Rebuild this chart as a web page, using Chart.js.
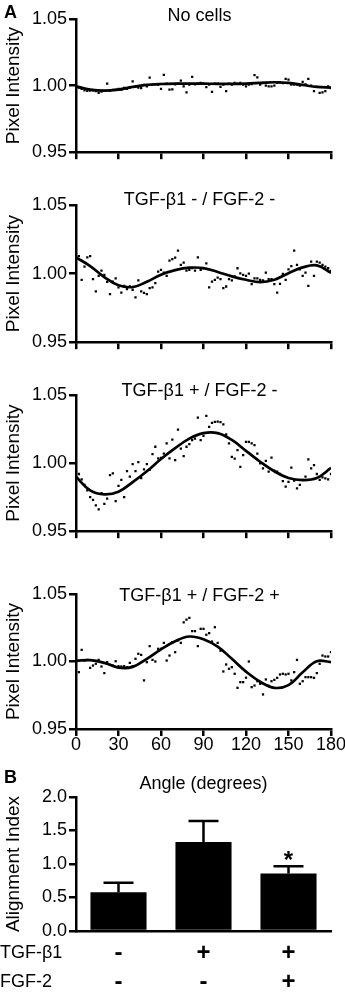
<!DOCTYPE html>
<html>
<head>
<meta charset="utf-8">
<title>Pixel intensity profiles and alignment index</title>
<script src="https://cdn.jsdelivr.net/npm/chart.js@4.4.1/dist/chart.umd.min.js"></script>
<style>
  html, body { margin: 0; padding: 0; background: #fff; }
  body { width: 345px; height: 992px; position: relative; overflow: hidden; }
  .panel { position: absolute; left: 0; width: 345px; }
</style>
</head>
<body>
<div class="panel" style="top:0px;height:165px"><canvas id="p1"></canvas></div>
<div class="panel" style="top:180px;height:175px"><canvas id="p2"></canvas></div>
<div class="panel" style="top:370px;height:174px"><canvas id="p3"></canvas></div>
<div class="panel" style="top:569px;height:226px"><canvas id="p4"></canvas></div>
<div class="panel" style="top:765px;height:227px"><canvas id="pB"></canvas></div>

<script>
// angle of each measured point (degrees)
const angles = [0, 2, 4, 6, 8, 10, 12, 14, 16, 18, 20, 22, 24, 26, 28, 30, 32, 34, 36, 38,
  40, 42, 44, 46, 48, 50, 52, 54, 56, 58, 60, 62, 64, 66, 68, 70, 72, 74, 76, 78,
  80, 82, 84, 86, 88, 90, 92, 94, 96, 98, 100, 102, 104, 106, 108, 110, 112, 114, 116, 118,
  120, 122, 124, 126, 128, 130, 132, 134, 136, 138, 140, 142, 144, 146, 148, 150, 152, 154, 156, 158,
  160, 162, 164, 166, 168, 170, 172, 174, 176, 178, 180];

// angles where the fitted curve was read
const fitAngles = [0, 10, 20, 30, 40, 50, 60, 70, 80, 90, 100, 110, 120, 130, 140, 150, 160, 170, 180];

// pixel intensity, panel "No cells"
const noCells = [0.9995, 0.9985, 0.9975, 0.9965, 0.9960, 0.9962, 0.9965, 0.9958, 0.9945, 0.9955,
  0.9960, 1.0015, 0.9962, 0.9968, 0.9970, 0.9975, 0.9970, 0.9982, 0.9975, 0.9985,
  1.0032, 0.9992, 0.9985, 0.9982, 1.0005, 0.9995, 1.0060, 1.0008, 1.0010, 1.0008,
  0.9975, 1.0080, 1.0015, 0.9970, 0.9972, 1.0010, 1.0015, 1.0038, 0.9995, 0.9950,
  1.0008, 1.0065, 1.0010, 1.0015, 1.0020, 1.0015, 0.9988, 1.0008, 0.9952, 1.0015,
  1.0015, 0.9990, 1.0008, 0.9958, 1.0015, 1.0008, 1.0020, 1.0015, 1.0020, 1.0008,
  0.9995, 1.0008, 1.0012, 1.0078, 1.0062, 1.0008, 1.0020, 1.0000, 0.9995, 0.9995,
  1.0000, 1.0020, 1.0025, 1.0018, 1.0050, 1.0045, 1.0008, 1.0008, 1.0008, 1.0000,
  1.0028, 1.0010, 1.0050, 1.0000, 0.9958, 0.9990, 0.9945, 0.9950, 0.9958, 0.9995, 0.9982];
const fitNoCells = [0.9995, 0.9970, 0.9962, 0.9970, 0.9990, 1.0005, 1.0012, 1.0015, 1.0015, 1.0015,
  1.0013, 1.0013, 1.0015, 1.0020, 1.0025, 1.0020, 1.0005, 0.9990, 0.9985];

// TGF-b1 - / FGF-2 -
const tgfNeg = [1.0118, 1.0128, 0.9954, 1.0050, 1.0118, 1.0128, 0.9960, 0.9870, 0.9983, 1.0022,
  0.9990, 0.9940, 0.9850, 0.9942, 0.9966, 0.9900, 0.9862, 0.9910, 0.9886, 0.9906,
  0.9882, 0.9826, 0.9950, 0.9870, 0.9860, 0.9850, 0.9894, 0.9900, 0.9930, 1.0014,
  1.0027, 1.0007, 0.9983, 1.0094, 1.0106, 1.0116, 1.0167, 1.0063, 1.0080, 1.0022,
  1.0027, 1.0040, 1.0022, 1.0118, 1.0027, 1.0039, 1.0075, 0.9900, 0.9942, 0.9954,
  0.9970, 0.9960, 0.9894, 0.9906, 0.9960, 0.9950, 0.9980, 1.0039, 1.0002, 0.9990,
  0.9983, 1.0000, 0.9923, 0.9966, 0.9966, 0.9954, 0.9950, 1.0007, 0.9960, 0.9960,
  0.9923, 0.9862, 0.9925, 0.9998, 0.9954, 1.0031, 1.0055, 1.0167, 1.0063, 1.0030,
  0.9983, 1.0007, 0.9910, 1.0087, 0.9983, 1.0087, 1.0080, 1.0063, 1.0050, 1.0039, 1.0020];
const fitTgfNeg = [1.0118, 1.0055, 0.9975, 0.9915, 0.9902, 0.9940, 0.9992, 1.0025, 1.0043, 1.0040,
  1.0012, 0.9980, 0.9955, 0.9938, 0.9955, 1.0003, 1.0045, 1.0060, 1.0005];

// TGF-b1 + / FGF-2 -
const tgfPos = [0.9937, 0.9920, 0.9880, 0.9840, 0.9800, 0.9750, 0.9730, 0.9690, 0.9660, 0.9780,
  0.9700, 0.9740, 0.9912, 0.9924, 0.9720, 0.9832, 0.9876, 0.9750, 0.9941, 0.9900,
  0.9993, 0.9941, 1.0007, 0.9890, 0.9954, 0.9993, 0.9950, 1.0066, 1.0120, 1.0034,
  1.0039, 1.0070, 1.0144, 1.0034, 1.0173, 1.0022, 1.0246, 1.0107, 1.0051, 1.0120,
  1.0140, 1.0168, 1.0180, 1.0334, 1.0168, 1.0200, 1.0346, 1.0266, 1.0295, 1.0302,
  1.0305, 1.0300, 1.0285, 1.0210, 1.0144, 1.0046, 1.0032, 1.0095, 0.9973, 1.0059,
  1.0156, 1.0156, 1.0144, 1.0132, 1.0070, 0.9998, 0.9961, 1.0017, 0.9937, 1.0041,
  0.9944, 0.9937, 0.9920, 0.9868, 0.9827, 0.9863, 0.9966, 0.9871, 0.9815, 0.9840,
  0.9876, 0.9900, 1.0027, 0.9961, 0.9985, 0.9920, 0.9876, 0.9895, 0.9888, 0.9880, 0.9920];
const fitTgfPos = [0.9900, 0.9800, 0.9770, 0.9790, 0.9860, 0.9940, 1.0030, 1.0110, 1.0180, 1.0220,
  1.0220, 1.0170, 1.0090, 1.0010, 0.9940, 0.9890, 0.9875, 0.9890, 0.9965];

// TGF-b1 + / FGF-2 +
const tgfFgf = [1.0012, 0.9921, 1.0086, 1.0007, 1.0012, 0.9953, 0.9970, 0.9983, 1.0012, 0.9963,
  0.9914, 0.9995, 0.9975, 0.9970, 1.0002, 0.9965, 0.9963, 0.9965, 0.9958, 0.9990,
  0.9965, 1.0020, 1.0057, 1.0049, 0.9860, 0.9995, 1.0114, 1.0012, 1.0000, 1.0094,
  1.0094, 1.0138, 1.0007, 1.0044, 1.0143, 1.0069, 1.0156, 1.0138, 1.0290, 1.0310,
  1.0323, 1.0225, 1.0225, 1.0114, 1.0242, 1.0242, 1.0198, 1.0210, 1.0148, 1.0254,
  1.0138, 1.0080, 0.9926, 0.9978, 0.9946, 0.9958, 0.9909, 0.9805, 0.9847, 0.9847,
  0.9880, 1.0000, 0.9810, 0.9822, 0.9854, 0.9835, 0.9756, 0.9867, 0.9820, 0.9854,
  0.9864, 0.9879, 0.9904, 0.9909, 0.9904, 0.9909, 0.9860, 0.9921, 1.0012, 0.9835,
  0.9854, 0.9884, 0.9884, 0.9884, 0.9879, 0.9914, 0.9983, 1.0044, 1.0037, 1.0037, 1.0069];
const fitTgfFgf = [1.0005, 1.0010, 0.9990, 0.9955, 0.9960, 1.0020, 1.0090, 1.0150, 1.0185, 1.0165,
  1.0110, 1.0020, 0.9925, 0.9850, 0.9805, 0.9825, 0.9920, 1.0002, 0.9995];

const panelTitles = ['No cells', 'TGF-β1 - / FGF-2 -', 'TGF-β1 + / FGF-2 -', 'TGF-β1 + / FGF-2 +'];

// panel B
const groupLabels = [['-', '-'], ['+', '-'], ['+', '+']];
const rowLabels = ['TGF-β1', 'FGF-2'];
const alignMean = [0.58, 1.33, 0.86];
const alignSem = [0.14, 0.31, 0.105];
const alignMarks = ['', '', '*'];

Chart.defaults.font.family = '"Liberation Sans", Arial, Helvetica, sans-serif';
Chart.defaults.color = '#000';

const panelText = {
  id: 'panelText',
  afterDraw(chart, args, opts) {
    const ctx = chart.ctx;
    const area = chart.chartArea;
    ctx.save();
    ctx.fillStyle = '#000';
    ctx.textBaseline = 'alphabetic';
    if (opts.title) {
      ctx.font = '18px "Liberation Sans", Arial, sans-serif';
      ctx.textAlign = 'center';
      ctx.fillText(opts.title, (area.left + area.right) / 2 - 4, opts.titleY);
    }
    if (opts.letter) {
      ctx.font = 'bold 18px "Liberation Sans", Arial, sans-serif';
      ctx.textAlign = 'left';
      ctx.fillText(opts.letter, 4, 18);
    }
    ctx.restore();
  }
};

function pointsOf(xs, ys) {
  return xs.map((x, i) => ({ x: x, y: ys[i] }));
}

function axisLook() {
  return {
    grid: { drawOnChartArea: false, tickLength: 7, lineWidth: 2.5, color: '#000' },
    border: { color: '#000', width: 2.5 }
  };
}

function profileChart(id, dots, fit, title, cfg) {
  const look = axisLook();
  return new Chart(document.getElementById(id), {
    type: 'scatter',
    data: {
      datasets: [
        { data: pointsOf(fitAngles, fit), showLine: true, borderColor: '#000', borderWidth: 2.7,
          pointRadius: 0, tension: 0.4, fill: false },
        { data: pointsOf(angles, dots), backgroundColor: '#000', borderWidth: 0,
          pointStyle: 'rect', pointRadius: 1.6 }
      ]
    },
    options: {
      responsive: true,
      maintainAspectRatio: false,
      animation: false,
      layout: { padding: { top: cfg.padTop, right: 14, left: 0, bottom: 0 } },
      plugins: {
        legend: { display: false },
        tooltip: { enabled: false },
        panelText: { title: title, titleY: cfg.titleY, letter: cfg.letter }
      },
      scales: {
        x: {
          type: 'linear', min: 0, max: 180,
          ticks: { stepSize: 30, display: cfg.showX, maxRotation: 0, padding: -2, font: { size: 18 } },
          grid: look.grid,
          border: look.border,
          title: { display: cfg.showX, text: 'Angle (degrees)', font: { size: 18 }, padding: 0 },
          afterFit(scale) { scale.height = cfg.axisH; }
        },
        y: {
          min: 0.95, max: 1.05,
          ticks: { stepSize: 0.05, padding: 2, font: { size: 18 }, callback: v => v.toFixed(2) },
          grid: look.grid,
          border: look.border,
          title: { display: true, text: 'Pixel Intensity', font: { size: 19 }, padding: { top: 2, bottom: 0 } },
          afterFit(scale) { scale.width = 76; }
        }
      }
    },
    plugins: [panelText]
  });
}

profileChart('p1', noCells, fitNoCells, panelTitles[0], { padTop: 19, titleY: 21, axisH: 12, showX: false, letter: 'A' });
profileChart('p2', tgfNeg, fitTgfNeg, panelTitles[1], { padTop: 25, titleY: 25, axisH: 12, showX: false });
profileChart('p3', tgfPos, fitTgfPos, panelTitles[2], { padTop: 25, titleY: 26, axisH: 12, showX: false });
profileChart('p4', tgfFgf, fitTgfFgf, panelTitles[3], { padTop: 25, titleY: 32, axisH: 66, showX: true });

const errorBars = {
  id: 'errorBars',
  afterDatasetsDraw(chart) {
    const ctx = chart.ctx;
    const yScale = chart.scales.y;
    const meta = chart.getDatasetMeta(0);
    ctx.save();
    ctx.strokeStyle = '#000';
    ctx.fillStyle = '#000';
    ctx.lineWidth = 2.5;
    meta.data.forEach((bar, i) => {
      const yTop = yScale.getPixelForValue(alignMean[i] + alignSem[i]);
      ctx.beginPath();
      ctx.moveTo(bar.x, bar.y);
      ctx.lineTo(bar.x, yTop);
      ctx.moveTo(bar.x - 15, yTop);
      ctx.lineTo(bar.x + 15, yTop);
      ctx.stroke();
      if (alignMarks[i]) {
        ctx.font = 'bold 24px "Liberation Sans", Arial, sans-serif';
        ctx.textAlign = 'center';
        ctx.textBaseline = 'alphabetic';
        ctx.fillText(alignMarks[i], bar.x, yTop + 2);
      }
    });
    ctx.restore();
  }
};

const rowNames = {
  id: 'rowNames',
  afterDraw(chart) {
    const ctx = chart.ctx;
    const xScale = chart.scales.x;
    const font = Chart.helpers.toFont(xScale.options.ticks.font);
    const y0 = xScale.top + xScale.options.ticks.padding + font.lineHeight / 2;
    ctx.save();
    ctx.fillStyle = '#000';
    ctx.font = '18px "Liberation Sans", Arial, sans-serif';
    ctx.textAlign = 'left';
    ctx.textBaseline = 'middle';
    rowLabels.forEach((name, i) => ctx.fillText(name, 0, y0 + i * font.lineHeight));
    ctx.restore();
  }
};

const lookB = axisLook();
new Chart(document.getElementById('pB'), {
  type: 'bar',
  data: {
    labels: groupLabels,
    datasets: [{ data: alignMean, backgroundColor: '#000', barPercentage: 0.66, categoryPercentage: 1 }]
  },
  options: {
    responsive: true,
    maintainAspectRatio: false,
    animation: false,
    layout: { padding: { top: 32, right: 14, left: 0, bottom: 0 } },
    plugins: {
      legend: { display: false },
      tooltip: { enabled: false },
      panelText: { letter: 'B' }
    },
    scales: {
      x: {
        ticks: { padding: 7.5, maxRotation: 0, font: { size: 24, weight: 'bold', lineHeight: 1.21 } },
        grid: { display: false, drawTicks: false },
        border: lookB.border,
        afterFit(scale) { scale.height = 61; }
      },
      y: {
        min: 0, max: 2,
        ticks: { stepSize: 0.5, padding: 2, font: { size: 18 }, callback: v => v.toFixed(1) },
        grid: lookB.grid,
        border: lookB.border,
        title: { display: true, text: 'Alignment Index', font: { size: 19 }, padding: { top: 2, bottom: 0 } },
        afterFit(scale) { scale.width = 76; }
      }
    }
  },
  plugins: [errorBars, rowNames, panelText]
});
</script>
</body>
</html>
